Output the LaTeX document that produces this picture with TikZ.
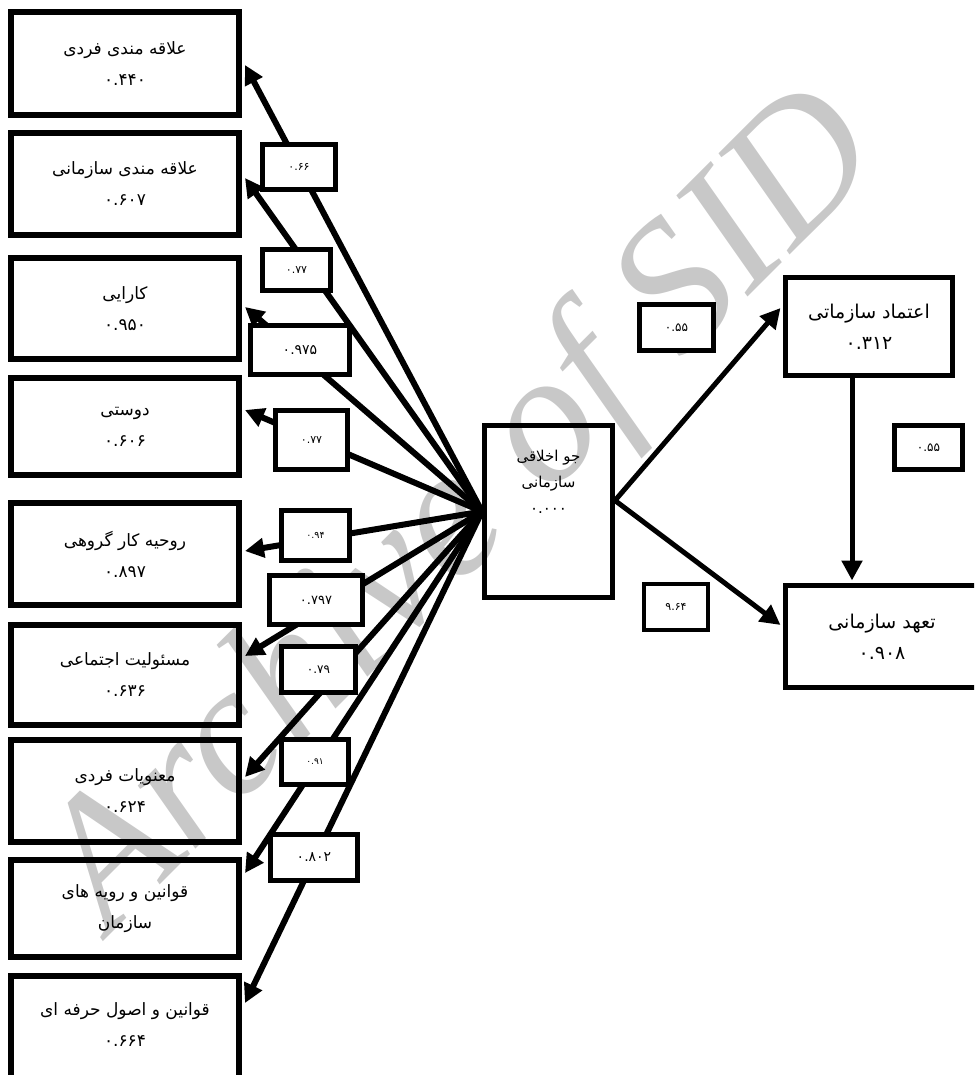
\documentclass[tikz,border=0pt]{standalone}
\usepackage{fontspec}
\usetikzlibrary{arrows.meta,calc}
\TeXXeTstate=1
\newfontfamily\fa[Script=Arabic]{DejaVu Sans}
\newfontfamily\wmfont{Liberation Serif}
\newcommand\rl[1]{\beginR #1\endR}
\definecolor{wmgray}{RGB}{200,200,200}
\tikzset{
  box/.style={draw, line width=6pt, minimum width=228pt, inner sep=0pt, align=center,
    font=\fa\fontsize{17}{31}\selectfont},
  rbox/.style={draw, line width=5pt, inner sep=0pt, align=center,
    font=\fa\fontsize{19}{31}\selectfont},
  lab/.style={draw, line width=5pt, fill=white, inner sep=0pt, font=\fa\fontsize{12}{14}\selectfont},
  arr/.style={line width=6pt, -{Triangle[length=19pt,width=19pt]}},
  rarr/.style={line width=5pt, -{Triangle[length=20pt,width=20pt]}},
}
\begin{document}
\begin{tikzpicture}[x=1pt,y=-1pt]
\useasboundingbox (0,0) rectangle (974,1075);
\clip (0,0) rectangle (974,1075);
% watermark
\node[anchor=base west, rotate=45, text=wmgray, inner sep=0pt,
  font=\wmfont\itshape\fontsize{186}{186}\selectfont] (wm) at (110,935) {Archive of SID};
% left boxes
\node[box, minimum height=103pt] (b1) at (125,63.5) {\rl{علاقه مندی فردی}\\ ۰.۴۴۰};
\node[box, minimum height=102pt] (b2) at (125,184) {\rl{علاقه مندی سازمانی}\\ ۰.۶۰۷};
\node[box, minimum height=101pt] (b3) at (125,308.5) {\rl{کارایی}\\ ۰.۹۵۰};
\node[box, minimum height=97pt] (b4) at (125,426.5) {\rl{دوستی}\\ ۰.۶۰۶};
\node[box, minimum height=102pt] (b5) at (125,554) {\rl{روحیه کار گروهی}\\ ۰.۸۹۷};
\node[box, minimum height=100pt] (b6) at (125,675) {\rl{مسئولیت اجتماعی}\\ ۰.۶۳۶};
\node[box, minimum height=102pt] (b7) at (125,791) {\rl{معنویات فردی}\\ ۰.۶۲۴};
\node[box, minimum height=97pt] (b8) at (125,908.5) {\rl{قوانین و رویه های}\\ \rl{سازمان}};
\node[box, minimum height=114pt] (b9) at (125,1033) {};
\node[align=center, inner sep=0pt, font=\fa\fontsize{17}{31}\selectfont] (b9t) at (125,1025) {\rl{قوانین و اصول حرفه ای}\\ ۰.۶۶۴};
% center box
\node[draw, line width=5pt, minimum width=128pt, minimum height=172pt, inner sep=0pt] (c) at (548.5,511.5) {};
\node[anchor=north, align=center, inner sep=0pt, font=\fa\fontsize{15}{26}\selectfont] (ct) at (548.5,450) {\rl{جو اخلاقی}\\ \rl{سازمانی}\\ ۰.۰۰۰};
% right boxes
\node[rbox, minimum width=167pt, minimum height=98pt] (r1) at (869,326.5) {\rl{اعتماد سازماتی}\\ ۰.۳۱۲};
\node[rbox, minimum width=193pt, minimum height=102pt] (r2) at (882,636.5) {\rl{تعهد سازمانی}\\ ۰.۹۰۸};
% left arrows
\draw[arr] (c.west) -- ($(b1.east)+(3,1.5)$);
\draw[arr] (c.west) -- ($(b2.east)+(3,-6)$);
\draw[arr] (c.west) -- ($(b3.east)+(3,-1.5)$);
\draw[arr] (c.west) -- ($(b4.east)+(3,-16.5)$);
\draw[arr] (c.west) -- ($(b5.east)+(3,-3)$);
\draw[arr] (c.west) -- ($(b6.east)+(3,-19)$);
\draw[arr] (c.west) -- ($(b7.east)+(3,-14)$);
\draw[arr] (c.west) -- ($(b8.east)+(3,-35.5)$);
\draw[arr] (c.west) -- ($(b9.east)+(3,-30)$);
% right arrows
\draw[rarr] ($(c.east)+(0,-11)$) -- ($(r1.west)+(-2.5,-18.5)$);
\draw[rarr] ($(c.east)+(0,-11)$) -- ($(r2.west)+(-2.5,-11.5)$);
\draw[rarr] ($(r1.south)+(-17,0)$) -- ($(r2.north)+(-30,-2.5)$);
% labels
\node[lab, minimum width=73pt, minimum height=45pt, font=\fa\fontsize{11}{13}\selectfont] (l1) at (299,167) {۰.۶۶};
\node[lab, minimum width=68pt, minimum height=41pt, font=\fa\fontsize{11}{13}\selectfont] (l2) at (296.5,270) {۰.۷۷};
\node[lab, minimum width=99pt, minimum height=49pt, font=\fa\fontsize{14}{16}\selectfont] (l3) at (300,350) {۰.۹۷۵};
\node[lab, minimum width=72pt, minimum height=59pt, font=\fa\fontsize{11}{13}\selectfont] (l4) at (311.5,440) {۰.۷۷};
\node[lab, minimum width=68pt, minimum height=50pt, font=\fa\fontsize{9.5}{11}\selectfont] (l5) at (315.5,535.5) {۰.۹۴};
\node[lab, minimum width=93pt, minimum height=49pt, font=\fa\fontsize{13}{15}\selectfont] (l6) at (316,600) {۰.۷۹۷};
\node[lab, minimum width=74pt, minimum height=46pt, font=\fa\fontsize{12}{14}\selectfont] (l7) at (318.5,669.5) {۰.۷۹};
\node[lab, minimum width=67pt, minimum height=45pt, font=\fa\fontsize{9}{11}\selectfont] (l8) at (315,762) {۰.۹۱};
\node[lab, minimum width=87pt, minimum height=46pt, font=\fa\fontsize{14}{16}\selectfont] (l9) at (314,857.5) {۰.۸۰۲};
\node[lab, minimum width=74pt, minimum height=46pt] (l10) at (676.5,327.5) {۰.۵۵};
\node[lab, minimum width=68pt, minimum height=44pt] (l11) at (928.5,447.5) {۰.۵۵};
\node[lab, line width=4pt, minimum width=64pt, minimum height=46pt, font=\fa\fontsize{11}{13}\selectfont] (l12) at (676,607) {۹.۶۴};
\end{tikzpicture}
\end{document}
